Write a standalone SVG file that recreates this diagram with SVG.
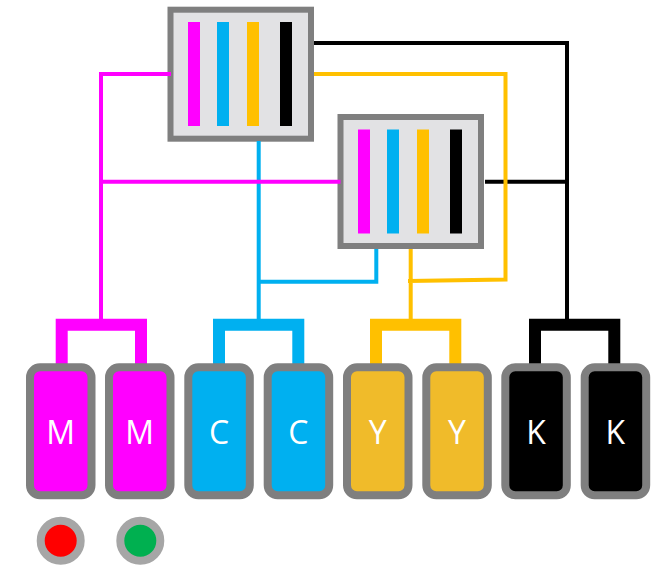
<svg xmlns="http://www.w3.org/2000/svg" width="661" height="565" viewBox="0 0 661 565">
<style>
.head{fill:#e2e2e4;stroke:#7f7f7f;stroke-width:6}
.w{fill:none;stroke-width:4}
.m{fill:none;stroke-width:12;stroke-linejoin:miter}
.tank{stroke:#7f7f7f;stroke-width:8}
.lab{font-family:"Open Sans",sans-serif;font-size:32px;fill:#fff;text-anchor:middle}
.dot{stroke:#a6a6a6;stroke-width:8}
</style>
<rect width="661" height="565" fill="#fff"/>
<g id="head-1">
<rect class="head" x="170.5" y="9.7" width="140.5" height="129"/>
<rect x="188" y="22" width="12" height="104" fill="#ff00ff"/>
<rect x="217" y="22" width="12" height="104" fill="#00b0f0"/>
<rect x="247" y="22" width="12" height="104" fill="#ffc000"/>
<rect x="280" y="22" width="12" height="104" fill="#000"/>
</g>
<g id="head-2">
<rect class="head" x="340.5" y="117" width="140.5" height="129"/>
<rect x="358" y="129.5" width="12" height="104" fill="#ff00ff"/>
<rect x="387" y="129.5" width="12" height="104" fill="#00b0f0"/>
<rect x="417" y="129.5" width="12" height="104" fill="#ffc000"/>
<rect x="450" y="129.5" width="12" height="104" fill="#000"/>
</g>
<g id="connectors">
<path class="w" stroke="#000" d="M314 43H567V320M485 181.7H567"/>
<path class="w" stroke="#ffc000" d="M314 74H505.5V279.5L408 281M410.7 249V320"/>
<path class="w" stroke="#00b0f0" d="M258.7 141V320M376.3 249V281.7H258.7"/>
<path class="w" stroke="#ff00ff" d="M171 74H101V320M101 181.7H340.5"/>
<path class="m" stroke="#ff00ff" d="M61.7 364V324.7H141V364"/>
<path class="m" stroke="#00b0f0" d="M219 364V324.7H298.3V364"/>
<path class="m" stroke="#ffc000" d="M376 364V324.7H455.3V364"/>
<path class="m" stroke="#000" d="M535 364V324.7H614.3V364"/>
</g>
<g id="tank-m1"><rect class="tank" x="30" y="367.3" width="61.5" height="128" rx="10" fill="#ff00ff"/><text class="lab" x="60.7" y="444">M</text></g>
<g id="tank-m2"><rect class="tank" x="109" y="367.3" width="61.5" height="128" rx="10" fill="#ff00ff"/><text class="lab" x="139.7" y="444">M</text></g>
<g id="tank-c1"><rect class="tank" x="188.3" y="367.3" width="61.5" height="128" rx="10" fill="#00b0f0"/><text class="lab" x="219" y="444">C</text></g>
<g id="tank-c2"><rect class="tank" x="267.7" y="367.3" width="61.5" height="128" rx="10" fill="#00b0f0"/><text class="lab" x="298.4" y="444">C</text></g>
<g id="tank-y1"><rect class="tank" x="347" y="367.3" width="61.5" height="128" rx="10" fill="#f0bb2a"/><text class="lab" x="377.7" y="444">Y</text></g>
<g id="tank-y2"><rect class="tank" x="426.3" y="367.3" width="61.5" height="128" rx="10" fill="#f0bb2a"/><text class="lab" x="457" y="444">Y</text></g>
<g id="tank-k1"><rect class="tank" x="505.3" y="367.3" width="61.5" height="128" rx="10" fill="#000"/><text class="lab" x="536" y="444">K</text></g>
<g id="tank-k2"><rect class="tank" x="584.7" y="367.3" width="61.5" height="128" rx="10" fill="#000"/><text class="lab" x="615.4" y="444">K</text></g>
<g id="led-red"><circle class="dot" cx="60.7" cy="540.7" r="20" fill="#ff0000"/></g>
<g id="led-green"><circle class="dot" cx="140.3" cy="540.7" r="20" fill="#00b050"/></g>
</svg>
